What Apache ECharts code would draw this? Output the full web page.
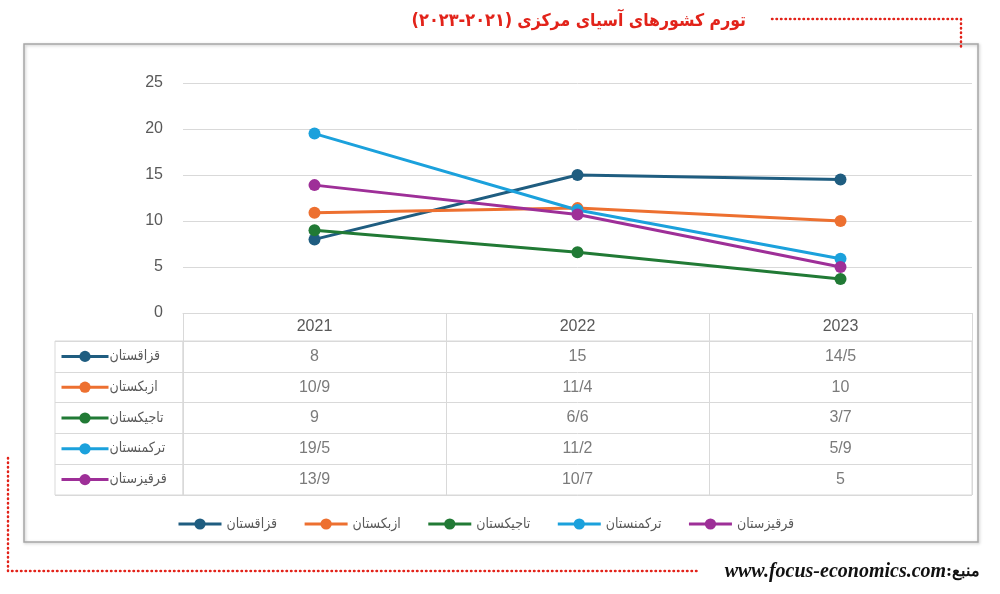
<!DOCTYPE html>
<html>
<head>
<meta charset="utf-8">
<script src="https://cdn.jsdelivr.net/npm/echarts@6/dist/echarts.min.js"></script>
<style>
  html, body { margin: 0; padding: 0; background: #fff; }
  #chart { width: 1000px; height: 594px; }
</style>
</head>
<body>
<div id="chart"></div>
<script>
// years on the x axis / table header
var years = ['2021', '2022', '2023'];
// countries, in legend order
var countries = ['قزاقستان', 'ازبکستان', 'تاجیکستان', 'ترکمنستان', 'قرقیزستان'];
var colors = ['#1f5d80', '#ed7030', '#217a35', '#1ba1dc', '#9e2f98'];

// inflation, percent
var kazakhstan = [8, 15, 14.5];
var uzbekistan = [10.9, 11.4, 10];
var tajikistan = [9, 6.6, 3.7];
var turkmenistan = [19.5, 11.2, 5.9];
var kyrgyzstan = [13.9, 10.7, 5];
var values = [kazakhstan, uzbekistan, tajikistan, turkmenistan, kyrgyzstan];

var yTicks = { min: 0, max: 25, interval: 5 };

var grey = '#595959';
var rule = '#d9d9d9';
var numFont = 'Liberation Sans';
var faFont = 'DejaVu Sans Condensed';

// table writes decimals with a slash
function fmt(v) {
    return String(v).replace('.', '/');
}

var rowCenters = [];
var tableTop = 341, rowH = 30.8;
for (var i = 0; i < countries.length; i++) {
    rowCenters.push(tableTop + rowH * (i + 0.5));
}

var lineSeries = countries.map(function (name, i) {
    return {
        name: name,
        type: 'line',
        xAxisIndex: 0,
        yAxisIndex: 0,
        data: values[i],
        symbol: 'circle',
        symbolSize: 12,
        lineStyle: { width: 3, color: colors[i] },
        itemStyle: { color: colors[i] }
    };
});

var cells = [];
values.forEach(function (row, i) {
    row.forEach(function (v, j) {
        cells.push([years[j], countries[i], v]);
    });
});

var tableSeries = {
    type: 'scatter',
    xAxisIndex: 2,
    yAxisIndex: 2,
    symbolSize: 1,
    itemStyle: { color: 'rgba(0,0,0,0)' },
    label: {
        show: true,
        position: 'inside',
        formatter: function (p) { return fmt(p.value[2]); },
        color: grey,
        fontSize: 16,
        fontFamily: numFont
    },
    data: cells
};

// one legend per table row, plus the one below the chart
var legends = countries.map(function (name, i) {
    return {
        data: [name],
        left: 60,
        top: rowCenters[i] - 7,
        padding: 0,
        itemWidth: 47,
        itemHeight: 14,
        lineStyle: { width: 3 },
        selectedMode: false,
        textStyle: { color: grey, fontSize: 14, fontFamily: faFont, padding: [0, 0, 0, -4] }
    };
});
legends.push({
    data: countries,
    left: 177,
    top: 517,
    padding: 0,
    itemWidth: 43,
    itemHeight: 14,
    itemGap: 26,
    lineStyle: { width: 3 },
    selectedMode: false,
    textStyle: { color: grey, fontSize: 14, fontFamily: faFont }
});

echarts.init(document.getElementById('chart')).setOption({
    animation: false,
    title: [
        {
            text: '{a|(۲۰۲۳-۲۰۲۱)} {b|تورم کشورهای آسیای مرکزی}',
            right: 249,
            top: 7,
            textStyle: {
                rich: {
                    a: { color: '#e2231a', fontSize: 18, fontWeight: 'bold', fontFamily: 'DejaVu Sans Condensed' },
                    b: { color: '#e2231a', fontSize: 17.5, fontWeight: 'bold', fontFamily: faFont }
                }
            }
        },
        {
            text: '{u|www.focus-economics.com}{s|:منبع}',
            right: 15,
            top: 557,
            textStyle: {
                rich: {
                    u: { color: '#111', fontSize: 20, fontStyle: 'italic', fontFamily: 'Liberation Serif' },
                    s: { color: '#111', fontSize: 16, fontFamily: 'DejaVu Serif' }
                }
            }
        }
    ],
    legend: legends,
    grid: [
        { left: 183, right: 28, top: 83, bottom: 281 },
        { left: 55, width: 128, top: tableTop, height: rowH * 5, show: true, borderColor: rule, borderWidth: 1 },
        { left: 183, right: 28, top: tableTop, height: rowH * 5, show: true, borderColor: rule, borderWidth: 1 }
    ],
    xAxis: [
        {
            type: 'category',
            gridIndex: 0,
            data: years,
            axisLine: { lineStyle: { color: rule } },
            axisTick: { show: false },
            axisLabel: { color: grey, fontSize: 16, fontFamily: numFont, margin: 6 }
        },
        {
            type: 'value',
            gridIndex: 1,
            show: false
        },
        {
            type: 'category',
            gridIndex: 2,
            position: 'top',
            data: years,
            axisLine: { show: true, lineStyle: { color: rule } },
            axisTick: { show: true, length: 28, interval: 0, lineStyle: { color: rule } },
            axisLabel: { show: false },
            splitLine: { show: true, interval: 0, lineStyle: { color: rule } }
        }
    ],
    yAxis: [
        {
            type: 'value',
            gridIndex: 0,
            min: yTicks.min,
            max: yTicks.max,
            interval: yTicks.interval,
            axisLine: { show: false },
            axisTick: { show: false },
            axisLabel: { color: grey, fontSize: 16, fontFamily: numFont, margin: 20 },
            splitLine: { lineStyle: { color: rule } }
        },
        {
            type: 'category',
            gridIndex: 1,
            inverse: true,
            data: countries,
            axisLine: { show: false },
            axisTick: { show: false },
            axisLabel: { show: false },
            splitLine: { show: true, interval: 0, lineStyle: { color: rule } }
        },
        {
            type: 'category',
            gridIndex: 2,
            inverse: true,
            data: countries,
            axisLine: { show: false },
            axisTick: { show: false },
            axisLabel: { show: false },
            splitLine: { show: true, interval: 0, lineStyle: { color: rule } }
        }
    ],
    graphic: [
        {
            type: 'rect',
            shape: { x: 24, y: 44, width: 954, height: 498 },
            style: { fill: 'none', stroke: '#a6a6a6', lineWidth: 1.5, shadowColor: 'rgba(0,0,0,0.25)', shadowBlur: 3, shadowOffsetX: 1, shadowOffsetY: 1 },
            z: -1
        },
        {
            type: 'polyline',
            shape: { points: [[772, 19], [961, 19], [961, 47]] },
            style: { fill: 'none', stroke: '#e2231a', lineWidth: 2.5, lineDash: [0.5, 4], lineCap: 'round' }
        },
        {
            type: 'polyline',
            shape: { points: [[8, 458], [8, 571], [700, 571]] },
            style: { fill: 'none', stroke: '#e2231a', lineWidth: 2.5, lineDash: [0.5, 4], lineCap: 'round' }
        }
    ],
    series: lineSeries.concat([tableSeries])
});
</script>
</body>
</html>
